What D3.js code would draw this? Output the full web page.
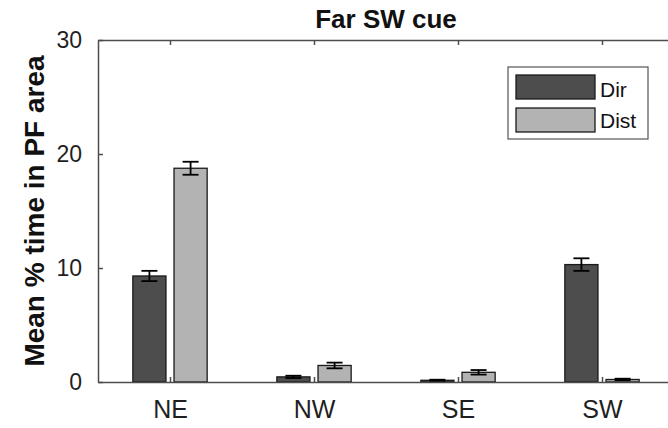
<!DOCTYPE html>
<html>
<head>
<meta charset="utf-8">
<script src="https://cdn.jsdelivr.net/npm/d3@7"></script>
<style>
  html, body { margin: 0; padding: 0; background: #fff; }
  svg { display: block; font-family: "Liberation Sans", Arial, sans-serif; }
</style>
</head>
<body>
<div id="chart"></div>
<script>
// --- dados ---
const categories = ["NE", "NW", "SE", "SW"];
const seriesNames = ["Dir", "Dist"];
const dirValues = [9.3, 0.45, 0.15, 10.3];
const dirErrors = [0.45, 0.1, 0.05, 0.55];
const distValues = [18.75, 1.45, 0.85, 0.22];
const distErrors = [0.57, 0.25, 0.2, 0.07];
const yTicks = [0, 10, 20, 30];
const colors = ["#4d4d4d", "#b3b3b3"];

const width = 668, height = 428;
const margin = { left: 98, top: 40, bottom: 46 };
const plotRight = 674; // o eixo passa da borda da imagem

const svg = d3.select("#chart").append("svg")
  .attr("width", width)
  .attr("height", height);

// escala de índice como no MATLAB: xlim [0.5, 4.5]
const x = d3.scaleLinear([0.5, 4.5], [margin.left, plotRight]);
const y = d3.scaleLinear([0, 30], [height - margin.bottom, margin.top]);

const unit = x(2) - x(1);
const barW = 0.23 * unit;
const offset = 0.143 * unit;

const series = [
  { name: seriesNames[0], values: dirValues, errors: dirErrors, color: colors[0], dx: -offset },
  { name: seriesNames[1], values: distValues, errors: distErrors, color: colors[1], dx: offset }
];

// barras
series.forEach(s => {
  const g = svg.append("g");
  g.selectAll("rect")
    .data(s.values)
    .join("rect")
    .attr("x", (d, i) => x(i + 1) + s.dx - barW / 2)
    .attr("y", d => y(d))
    .attr("width", barW)
    .attr("height", d => y(0) - y(d))
    .attr("fill", s.color)
    .attr("stroke", "#1a1a1a")
    .attr("stroke-width", 1.3);

  // barras de erro
  const capW = 8;
  const eb = g.selectAll("g.err")
    .data(s.values.map((v, i) => ({ v, e: s.errors[i], i })))
    .join("g")
    .attr("class", "err")
    .attr("stroke", "#000")
    .attr("stroke-width", 1.8);
  eb.append("line")
    .attr("x1", d => x(d.i + 1) + s.dx).attr("x2", d => x(d.i + 1) + s.dx)
    .attr("y1", d => y(d.v + d.e)).attr("y2", d => y(d.v - d.e));
  eb.append("line")
    .attr("x1", d => x(d.i + 1) + s.dx - capW).attr("x2", d => x(d.i + 1) + s.dx + capW)
    .attr("y1", d => y(d.v + d.e)).attr("y2", d => y(d.v + d.e));
  eb.append("line")
    .attr("x1", d => x(d.i + 1) + s.dx - capW).attr("x2", d => x(d.i + 1) + s.dx + capW)
    .attr("y1", d => y(d.v - d.e)).attr("y2", d => y(d.v - d.e));
});

// eixos (caixa com ticks para dentro)
const axisColor = "#4d4d4d";
const tickLen = 5;

const yAxis = d3.axisLeft(y).tickValues(yTicks).tickSizeInner(-tickLen).tickSizeOuter(0).tickPadding(16);
svg.append("g")
  .attr("transform", `translate(${margin.left},0)`)
  .call(yAxis)
  .call(g => g.select(".domain").attr("stroke", axisColor).attr("stroke-width", 1.5))
  .call(g => g.selectAll(".tick line").attr("stroke", axisColor).attr("stroke-width", 1.5))
  .call(g => g.selectAll(".tick text")
    .attr("font-size", 23).attr("fill", "#1f1f1f")
    .attr("font-family", "'Liberation Sans', Arial, sans-serif"));

const xAxis = d3.axisBottom(x).tickValues([1, 2, 3, 4])
  .tickFormat(d => categories[d - 1]).tickSizeInner(-tickLen).tickSizeOuter(0).tickPadding(18);
svg.append("g")
  .attr("transform", `translate(0,${y(0)})`)
  .call(xAxis)
  .call(g => g.select(".domain").attr("stroke", axisColor).attr("stroke-width", 1.5))
  .call(g => g.selectAll(".tick line").attr("stroke", axisColor).attr("stroke-width", 1.5))
  .call(g => g.selectAll(".tick text")
    .attr("font-size", 25).attr("fill", "#1f1f1f")
    .attr("font-family", "'Liberation Sans', Arial, sans-serif"));

// topo da caixa
svg.append("g")
  .attr("transform", `translate(0,${y(30)})`)
  .call(d3.axisTop(x).tickValues([1, 2, 3, 4]).tickFormat("").tickSizeInner(-tickLen).tickSizeOuter(0))
  .call(g => g.select(".domain").attr("stroke", axisColor).attr("stroke-width", 1.5))
  .call(g => g.selectAll(".tick line").attr("stroke", axisColor).attr("stroke-width", 1.5));

// título
svg.append("text")
  .attr("x", (margin.left + plotRight) / 2)
  .attr("y", 28)
  .attr("text-anchor", "middle")
  .attr("font-size", 26)
  .attr("font-weight", "bold")
  .attr("fill", "#111")
  .text("Far SW cue");

// rótulo do eixo y
svg.append("text")
  .attr("transform", `translate(44,${(y(0) + y(30)) / 2}) rotate(-90)`)
  .attr("text-anchor", "middle")
  .attr("font-size", 28)
  .attr("font-weight", "bold")
  .attr("fill", "#111")
  .text("Mean % time in PF area");

// legenda
const legend = svg.append("g").attr("transform", "translate(508,67)");
legend.append("rect")
  .attr("width", 140).attr("height", 72)
  .attr("fill", "#fff").attr("stroke", "#555").attr("stroke-width", 1.2);
series.forEach((s, i) => {
  legend.append("rect")
    .attr("x", 8).attr("y", 8 + i * 33)
    .attr("width", 79).attr("height", 24)
    .attr("fill", s.color).attr("stroke", "#1a1a1a").attr("stroke-width", 1.3);
  legend.append("text")
    .attr("x", 92).attr("y", 30 + i * 31)
    .attr("font-size", 21)
    .attr("fill", "#111")
    .text(s.name);
});
</script>
</body>
</html>
